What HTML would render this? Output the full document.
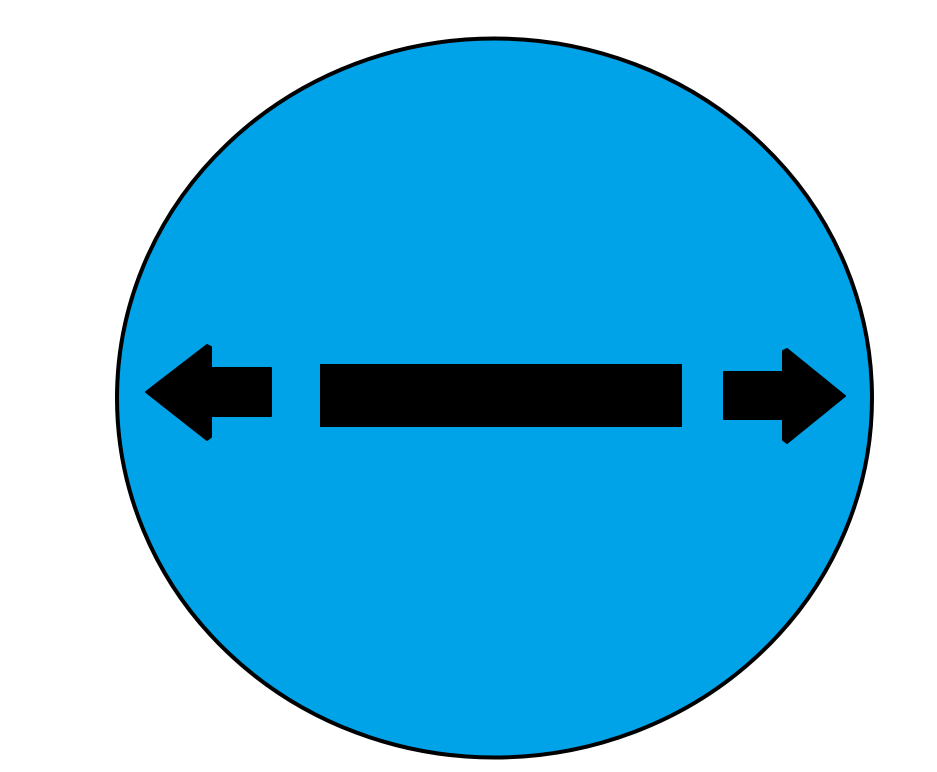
<!DOCTYPE html>
<html>
<head>
<meta charset="utf-8">
<style>
  html, body { margin: 0; padding: 0; background: #fff; }
  svg { display: block; }
</style>
</head>
<body>
<svg width="937" height="772" viewBox="0 0 937 772">
  <ellipse cx="494.5" cy="398" rx="377.5" ry="359.5" fill="#00A2E8" stroke="#000" stroke-width="4"/>
  <polygon points="146,392 207,345 211,347 211,368 271,368 271,416 211,416 211,437 207,440" fill="#000" stroke="#000" stroke-width="2" stroke-linejoin="round"/>
  <rect x="320" y="364" width="362" height="63" fill="#000"/>
  <polygon points="845,396 787,349 783,351 783,372 724,372 724,419 783,419 783,440 787,443" fill="#000" stroke="#000" stroke-width="2" stroke-linejoin="round"/>
</svg>
</body>
</html>
